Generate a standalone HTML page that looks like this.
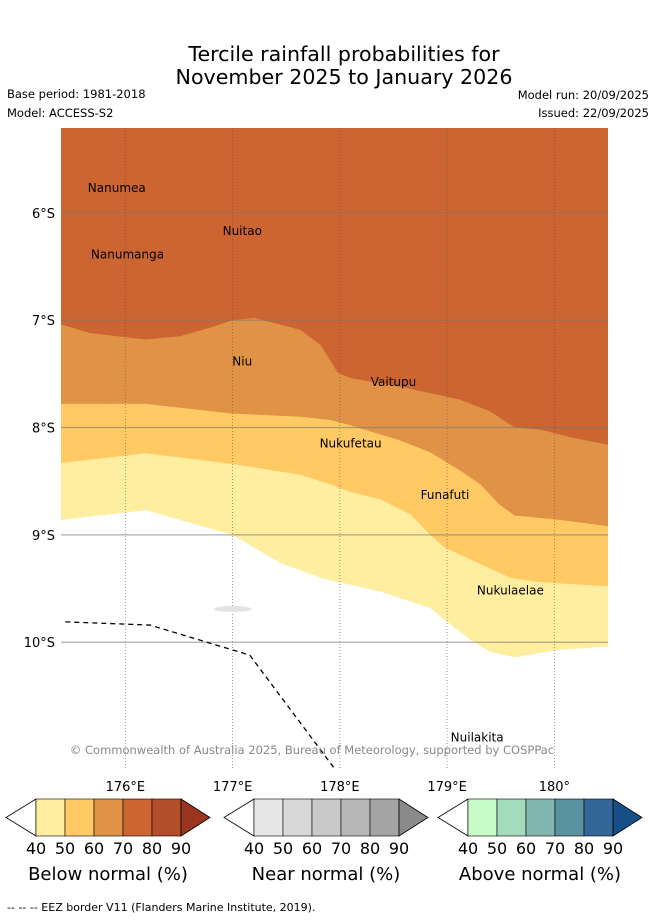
<!DOCTYPE html>
<html><head><meta charset="utf-8"><style>
html,body{margin:0;padding:0;background:#fff;}
svg text{font-family:"DejaVu Sans","Liberation Sans",sans-serif;}
</style></head><body>
<svg id="chart" width="655" height="919" viewBox="0 0 655 919" xmlns="http://www.w3.org/2000/svg">
<text x="344" y="61" font-size="20.6" text-anchor="middle">Tercile rainfall probabilities for</text>
<text x="344" y="84" font-size="20.6" text-anchor="middle">November 2025 to January 2026</text>
<text x="7" y="98" font-size="11.5">Base period: 1981-2018</text>
<text x="7" y="117" font-size="11.5">Model: ACCESS-S2</text>
<text x="649" y="99" font-size="11.5" text-anchor="end">Model run: 20/09/2025</text>
<text x="649" y="117" font-size="11.5" text-anchor="end">Issued: 22/09/2025</text>
<defs><clipPath id="mapclip"><rect x="61" y="128" width="547" height="642"/></clipPath></defs>
<g id="map" clip-path="url(#mapclip)"></g>
<g id="axes"></g>
<g id="bars"></g>
<text x="7" y="911" font-size="11">--  --  -- EEZ border V11 (Flanders Marine Institute, 2019).</text>
</svg>
<script>
const lonMin = 175.40, lonMax = 180.50, latMin = 5.21, latMax = 11.19;
const lonTicks = [176, 177, 178, 179, 180];
const lonTickLabels = ["176°E", "177°E", "178°E", "179°E", "180°"];
const latTicks = [6, 7, 8, 9, 10];
const latTickLabels = ["6°S", "7°S", "8°S", "9°S", "10°S"];
// contour boundaries (lon, lat south)
const b80Lon = [175.40,175.67,176.19,176.51,176.79,177.0,177.21,177.63,177.82,177.98,178.10,178.56,178.84,179.12,179.40,179.63,179.87,180.15,180.50];
const b80Lat = [7.04,7.12,7.18,7.15,7.07,7.0,6.98,7.09,7.23,7.49,7.54,7.62,7.68,7.74,7.85,8.0,8.02,8.09,8.16];
const b70Lon = [175.40,176.19,177.0,177.63,177.91,178.10,178.56,178.84,179.12,179.31,179.49,179.63,180.05,180.50];
const b70Lat = [7.78,7.78,7.87,7.90,7.93,7.98,8.12,8.23,8.40,8.53,8.72,8.82,8.86,8.92];
const b60Lon = [175.40,176.19,177.0,177.63,177.91,178.10,178.38,178.66,178.84,178.98,179.22,179.59,179.87,180.50];
const b60Lat = [8.33,8.24,8.34,8.44,8.53,8.60,8.67,8.81,9.0,9.12,9.23,9.40,9.44,9.48];
const b50Lon = [175.40,176.19,177.0,177.44,177.82,178.38,178.66,178.84,179.0,179.22,179.40,179.63,180.05,180.50];
const b50Lat = [8.86,8.77,9.0,9.26,9.40,9.53,9.62,9.68,9.81,9.98,10.09,10.14,10.07,10.04];
const eezLon = [175.44,176.23,177.16,177.96];
const eezLat = [9.81,9.84,10.12,11.19];
const islandNames = ["Nanumea","Nuitao","Nanumanga","Niu","Vaitupu","Nukufetau","Funafuti","Nukulaelae","Nuilakita"];
const islandLon = [175.92,177.09,176.02,177.09,178.50,178.10,178.98,179.59,179.28];
const islandLat = [5.73,6.13,6.35,7.35,7.54,8.11,8.59,9.48,10.85];
const barTicks = [40,50,60,70,80,90];
const belowColors = ["#ffeea0","#ffca63","#e09346","#cc6532","#b24e29","#9a3620"];
const nearColors = ["#e6e6e6","#d8d8d8","#c9c9c9","#b7b7b7","#a4a4a4","#8a8a8a"];
const aboveColors = ["#c8fcc8","#a5dbbd","#82b7b0","#5a92a0","#336699","#164e86"];
const barTitles = ["Below normal (%)","Near normal (%)","Above normal (%)"];

const NS="http://www.w3.org/2000/svg";
const X = lon => 61 + (lon-lonMin)/(lonMax-lonMin)*547;
const Y = lat => 128 + (lat-latMin)/(latMax-latMin)*642;
function mk(tag, attrs, parent){const e=document.createElementNS(NS,tag);for(const k in attrs)e.setAttribute(k,attrs[k]);parent.appendChild(e);return e;}
const map=document.getElementById('map'), axes=document.getElementById('axes'), bars=document.getElementById('bars');
function bandPath(lons,lats){let d=`M${X(lonMin)},${Y(latMin)} `;lons.forEach((l,i)=>d+=`L${X(l)},${Y(lats[i])} `);d+=`L${X(lonMax)},${Y(latMin)} Z`;return d;}
let r=mk('rect',{x:61,y:128,width:547,height:642,fill:'#fff'},map);


const bands=[[b50Lon,b50Lat,belowColors[0],'band-40-50'],[b60Lon,b60Lat,belowColors[1],'band-50-60'],[b70Lon,b70Lat,belowColors[2],'band-60-70'],[b80Lon,b80Lat,belowColors[3],'band-70-80']];
bands.forEach(b=>{const p=mk('path',{d:bandPath(b[0],b[1]),fill:b[2]},map);

});
lonTicks.forEach((t,i)=>{const l=mk('line',{x1:X(t),x2:X(t),y1:128,y2:770,stroke:'#555','stroke-width':0.8,'stroke-dasharray':'1,2','stroke-opacity':0.7},map);


const tx=mk('text',{x:X(t),y:791,'font-size':13,'text-anchor':'middle'},axes);tx.textContent=lonTickLabels[i];

});
latTicks.forEach((t,i)=>{const l=mk('line',{x1:61,x2:608,y1:Y(t),y2:Y(t),stroke:'#777','stroke-width':1.2,'stroke-opacity':0.6},map);


const tx=mk('text',{x:55,y:Y(t)+5,'font-size':13,'text-anchor':'end'},axes);tx.textContent=latTickLabels[i];

});
let ed='';eezLon.forEach((l,i)=>ed+=(i?'L':'M')+X(l)+','+Y(eezLat[i])+' ');
const eez=mk('path',{d:ed,fill:'none',stroke:'#000','stroke-width':1.3,'stroke-dasharray':'5,4'},map);


const shoal=mk('ellipse',{cx:X(177),cy:609,rx:19,ry:3,fill:'#e3e3e3'},map);


islandNames.forEach((n,i)=>{const t=mk('text',{x:X(islandLon[i]),y:Y(islandLat[i])+8,'font-size':12,'text-anchor':'middle'},map);t.textContent=n;

});
const cp=mk('text',{x:312,y:754,'font-size':11.5,'text-anchor':'middle',fill:'#888'},map);cp.textContent='© Commonwealth of Australia 2025, Bureau of Meteorology, supported by COSPPac';


const barX=[36,254,468], pal=[belowColors,nearColors,aboveColors];
barX.forEach((bx,k)=>{const g=mk('g',{},bars);


const w=29, y0=799, h=37;
mk('path',{d:`M${bx},${y0} L${bx-30},${y0+h/2} L${bx},${y0+h} Z`,fill:'#fff',stroke:'#000','stroke-width':0.8},g);
for(let j=0;j<5;j++)mk('rect',{x:bx+j*w,y:y0,width:w,height:h,fill:pal[k][j],stroke:'#000','stroke-width':0.6},g);
mk('path',{d:`M${bx+5*w},${y0} L${bx+5*w+29},${y0+h/2} L${bx+5*w},${y0+h} Z`,fill:pal[k][5],stroke:'#000','stroke-width':0.8},g);
barTicks.forEach((t,j)=>{const tx=mk('text',{x:bx+j*w,y:854,'font-size':16,'text-anchor':'middle'},g);tx.textContent=t;});
const tt=mk('text',{x:bx+72,y:880,'font-size':18,'text-anchor':'middle'},g);tt.textContent=barTitles[k];});
</script>
</body></html>
